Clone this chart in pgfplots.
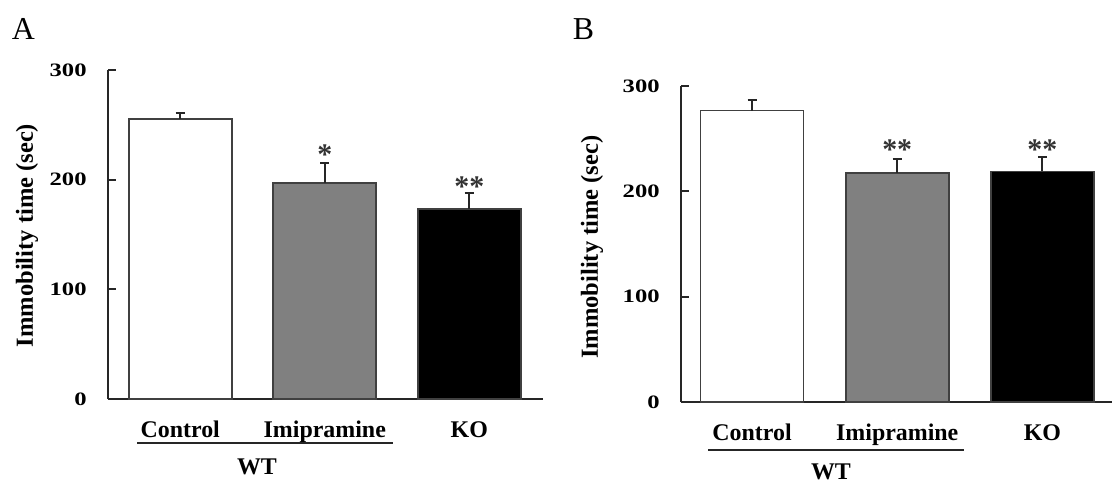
\documentclass[border=0pt]{standalone}
\usepackage{fontspec}
\setmainfont{Liberation Serif}
\newfontfamily\tickfont[FakeStretch=1.3]{Liberation Serif}
\usepackage{pgfplots}
\pgfplotsset{compat=1.18}
\definecolor{bargray}{HTML}{808080}
\tikzset{sigstar/.style={font=\fontsize{15}{17}\selectfont\bfseries, text=black!80, anchor=north, inner sep=0pt}}
\pgfplotsset{
  panel/.style={
    scale only axis, anchor=south west,
    axis x line*=bottom, axis y line*=left,
    ymin=0, ymax=300, ytick={0,100,200,300},
    xtick={0,1,2}, xticklabels={Control,Imipramine,KO},
    xtick style={draw=none},
    tick align=inside, major tick length=3.8bp,
    ytick style={line width=1bp, black!85},
    axis line style={line width=1bp, black!85},
    xticklabel style={font=\fontsize{12}{14}\selectfont\bfseries, anchor=base, yshift=-19bp, inner sep=0pt},
    yticklabel style={font=\tickfont\fontsize{9.5}{11}\selectfont\bfseries, anchor=east, inner sep=0pt, xshift=-10.5bp},
    /pgf/number format/assume math mode=true,
    ylabel={Immobility time (sec)},
    ylabel style={font=\fontsize{12.3}{14}\selectfont\bfseries, anchor=center},
    clip=false,
  },
  mybar/.style={
    ybar, bar shift=0pt, draw=black!75, line width=0.8bp,
    error bars/y dir=plus, error bars/y explicit,
    error bars/error mark=|,
    error bars/error bar style={line width=1bp, black!85},
    error bars/error mark options={mark size=2.3bp, line width=1bp, black!85},
  },
}
\begin{document}
\begin{tikzpicture}
\path[use as bounding box] (0,0) rectangle (556bp,241.5bp);

% Panel A
\begin{axis}[panel, at={(54bp,42bp)}, width=217.5bp, height=164.5bp,
  xmin=-0.5, xmax=2.51,
  ylabel style={at={(axis description cs:-0.186,0.497)}}]
\addplot[mybar, bar width=0.713, fill=white] coordinates {(0,255.3) +- (0,5.1)};
\addplot[mybar, bar width=0.713, fill=bargray] coordinates {(1,197.0) +- (0,18.2)};
\addplot[mybar, bar width=0.713, fill=black] coordinates {(2,173.0) +- (0,14.8)};
\node[sigstar] at (axis cs:1,232.5) {*};
\node[sigstar] at (axis cs:2,203.3) {**};
\end{axis}

% Panel B
\begin{axis}[panel, at={(340.5bp,40.5bp)}, width=215.5bp, height=158bp,
  xmin=-0.49, xmax=2.48,
  ylabel style={at={(axis description cs:-0.2065,0.49)}}]
\addplot[mybar, bar width=0.71, fill=white] coordinates {(0,276.6) +- (0,10.1)};
\addplot[mybar, bar width=0.71, fill=bargray] coordinates {(1,217.4) +- (0,13.0)};
\addplot[mybar, bar width=0.71, fill=black] coordinates {(2,219.0) +- (0,13.9)};
\node[sigstar] at (axis cs:1,249.7) {**};
\node[sigstar] at (axis cs:2,249.7) {**};
\end{axis}

% panel letters
\node[anchor=base, font=\fontsize{16}{18}\selectfont, inner sep=0pt] at (11.75bp,221.5bp) {A};
\node[anchor=base, font=\fontsize{16}{18}\selectfont, inner sep=0pt] at (291.75bp,221.5bp) {B};

% WT group lines
\draw[line width=1bp, black!85] (68.5bp,20bp) -- (196.5bp,20bp);
\node[anchor=base, font=\fontsize{12}{14}\selectfont\bfseries, inner sep=0pt] at (128.5bp,4.5bp) {WT};
\draw[line width=1bp, black!85] (354bp,16.5bp) -- (482bp,16.5bp);
\node[anchor=base, font=\fontsize{12}{14}\selectfont\bfseries, inner sep=0pt] at (415.5bp,2bp) {WT};
\end{tikzpicture}
\end{document}
